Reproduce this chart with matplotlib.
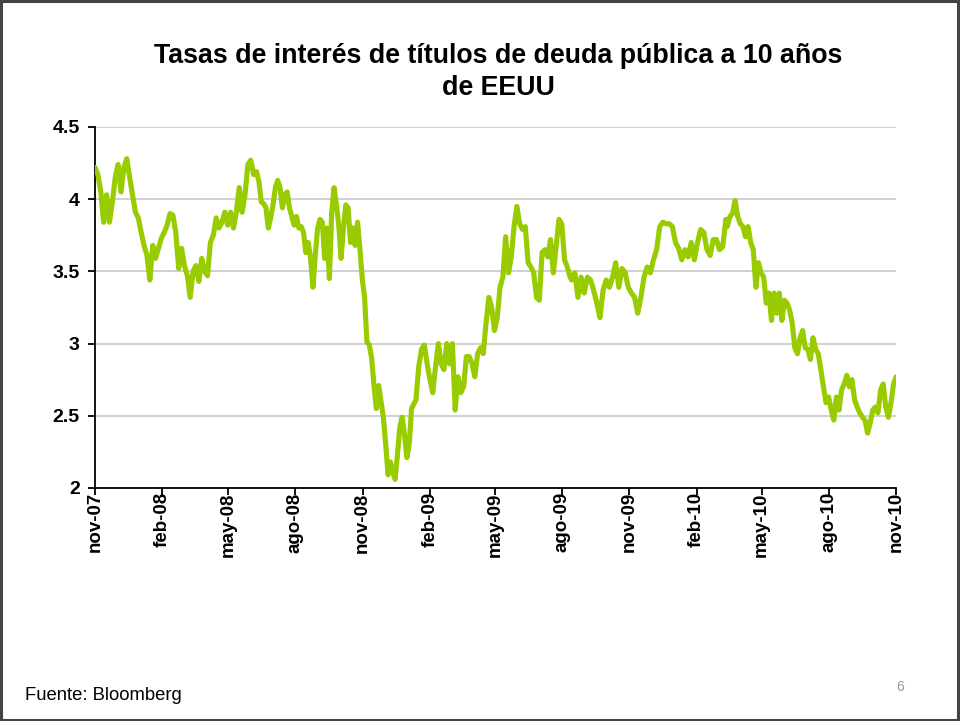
import matplotlib
matplotlib.use("Agg")
import matplotlib.pyplot as plt
import pandas as pd
from matplotlib.patches import Rectangle

plt.rcParams['font.family'] = ['Liberation Sans', 'DejaVu Sans']

title = "Tasas de interés de títulos de deuda pública a 10 años\nde EEUU"
source = "Fuente: Bloomberg"
page = "6"

# Yield segments (each: start date, end date)
seg1_range = ("2007-11-01", "2008-06-05")
seg1 = [4.22, 4.17, 4.05, 3.84, 4.03, 3.84, 3.98, 4.15, 4.24, 4.05, 4.22, 4.28, 4.15, 4.03,
        3.91, 3.87, 3.77, 3.68, 3.61, 3.44, 3.68, 3.59, 3.66, 3.73, 3.77, 3.82, 3.90, 3.89,
        3.77, 3.52, 3.66, 3.54, 3.47, 3.32, 3.50, 3.54, 3.43, 3.59, 3.50, 3.47, 3.70, 3.75,
        3.87, 3.80, 3.84, 3.91, 3.82, 3.91, 3.80, 3.91, 4.08, 3.91, 4.03, 4.24, 4.27, 4.17]
seg2_range = ("2008-06-09", "2009-01-07")
seg2 = [4.19, 4.12, 3.98, 3.97, 3.94, 3.80, 3.87, 3.96, 4.08, 4.13, 4.08, 3.94, 4.03, 4.05,
        3.94, 3.88, 3.82, 3.88, 3.80, 3.81, 3.77, 3.63, 3.70, 3.59, 3.39, 3.61, 3.80, 3.86,
        3.84, 3.59, 3.80, 3.45, 3.91, 4.08, 3.96, 3.82, 3.59, 3.80, 3.96, 3.94, 3.70, 3.80,
        3.68, 3.84, 3.66, 3.45, 3.32, 3.01, 2.99, 2.90, 2.71, 2.55, 2.71, 2.60, 2.49, 2.30,
        2.09, 2.18, 2.11, 2.06, 2.23, 2.42, 2.49, 2.37, 2.21, 2.30, 2.55]
seg3_range = ("2009-01-13", "2009-08-12")
seg3 = [2.61, 2.84, 2.96, 2.99, 2.86, 2.75, 2.66, 2.84, 3.00, 2.86, 2.82, 3.00, 2.86, 3.00,
        2.54, 2.77, 2.66, 2.70, 2.91, 2.91, 2.86, 2.77, 2.93, 2.97, 2.93, 3.14, 3.32, 3.25,
        3.09, 3.18, 3.39, 3.46, 3.74, 3.49, 3.60, 3.81, 3.95, 3.83, 3.79, 3.81, 3.56, 3.53,
        3.49, 3.32, 3.30, 3.63, 3.65, 3.60, 3.72, 3.49, 3.67, 3.86, 3.83, 3.58, 3.53, 3.46]
seg4_range = ("2009-08-14", "2010-03-13")
seg4 = [3.44, 3.49, 3.32, 3.46, 3.35, 3.46, 3.44, 3.37, 3.28, 3.18, 3.37, 3.44, 3.39, 3.46,
        3.56, 3.39, 3.52, 3.49, 3.39, 3.35, 3.32, 3.21, 3.32, 3.46, 3.53, 3.49, 3.58, 3.65,
        3.81, 3.84, 3.83, 3.83, 3.81, 3.70, 3.66, 3.58, 3.65, 3.60, 3.70, 3.58, 3.70, 3.79,
        3.77, 3.65, 3.61, 3.72, 3.72, 3.65, 3.67, 3.86]
seg5_range = ("2010-03-15", "2010-11-01")
seg5 = [3.81, 3.88, 3.90, 3.99, 3.88, 3.83, 3.81, 3.74, 3.81, 3.70, 3.65, 3.39, 3.56, 3.49,
        3.46, 3.28, 3.35, 3.16, 3.35, 3.21, 3.35, 3.16, 3.30, 3.28, 3.23, 3.14, 2.97, 2.93,
        3.04, 3.09, 2.97, 2.96, 2.89, 3.04, 2.96, 2.93, 2.82, 2.70, 2.59, 2.63, 2.54, 2.47,
        2.63, 2.54, 2.68, 2.72, 2.78, 2.70, 2.75, 2.61, 2.56, 2.52, 2.49, 2.47, 2.38, 2.45,
        2.54, 2.56, 2.52, 2.68, 2.72, 2.56, 2.49, 2.59, 2.72, 2.77]

tick_dates = ["2007-11-01", "2008-02-01", "2008-05-01", "2008-08-01", "2008-11-01",
              "2009-02-01", "2009-05-01", "2009-08-01", "2009-11-01", "2010-02-01",
              "2010-05-01", "2010-08-01", "2010-11-01"]
tick_labels = ["nov-07", "feb-08", "may-08", "ago-08", "nov-08", "feb-09", "may-09",
               "ago-09", "nov-09", "feb-10", "may-10", "ago-10", "nov-10"]
y_ticks = [2, 2.5, 3, 3.5, 4, 4.5]
y_labels = ["2", "2.5", "3", "3.5", "4", "4.5"]

segments = [(seg1_range, seg1), (seg2_range, seg2), (seg3_range, seg3),
            (seg4_range, seg4), (seg5_range, seg5)]
dates = []
values = []
for (s, e), vals in segments:
    dates.extend(pd.date_range(s, e, periods=len(vals)))
    values.extend(vals)

fig = plt.figure(figsize=(9.6, 7.21), dpi=100)
ax = fig.add_axes([0.099, 0.3232, 0.8345, 0.5007])

ax.plot(dates, values, color="#99CC00", linewidth=3.7, solid_joinstyle="round",
        solid_capstyle="round", zorder=3)

ax.set_xlim(pd.Timestamp("2007-11-01"), pd.Timestamp("2010-11-01"))
ax.set_ylim(2, 4.5)
ax.set_yticks(y_ticks)
ax.set_yticklabels(y_labels, fontsize=14, fontweight="bold")
ax.set_xticks([pd.Timestamp(d) for d in tick_dates])
ax.set_xticklabels(tick_labels, rotation=90, fontsize=13.5, fontweight="bold")

ax.yaxis.grid(True, color="#C8C8C8", linewidth=1.2)
ax.set_axisbelow(True)
for side in ["top", "right"]:
    ax.spines[side].set_visible(False)
ax.spines["left"].set_linewidth(1.3)
ax.spines["bottom"].set_linewidth(1.3)
ax.tick_params(axis="both", direction="out", length=5, width=1.3, colors="black")
ax.tick_params(axis="y", pad=6)
ax.tick_params(axis="x", pad=-2)

fig.text(0.519, 0.940, title, ha="center", va="top", fontsize=19.3, fontweight="bold",
         linespacing=1.3)
fig.text(0.026, 0.029, source, ha="left", va="baseline", fontsize=13.3)
fig.text(0.938, 0.041, page, ha="center", va="baseline", fontsize=10, color="#999999")

fig.patches.append(Rectangle((0.001, 0.002), 0.997, 0.996, transform=fig.transFigure,
                             fill=False, edgecolor="#444444", linewidth=2.2))

fig.savefig("out.png", dpi=100)
